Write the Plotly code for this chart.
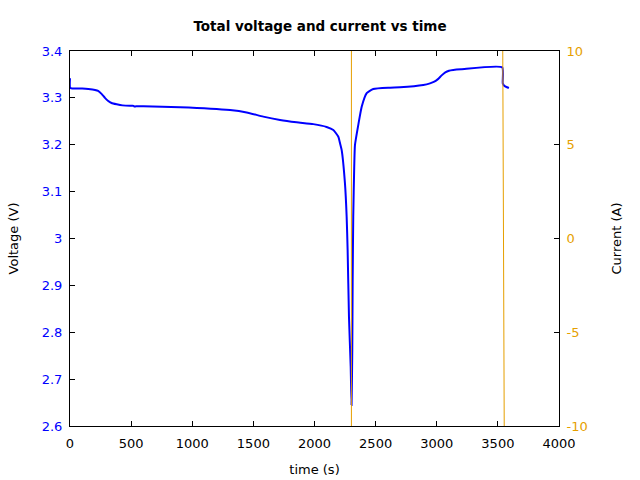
import plotly.graph_objects as go

# Voltage data (time s, voltage V)
time_v = [0, 3, 100, 150, 205, 230, 260, 286, 310, 340, 382, 430, 491, 520, 526, 540, 600,
          900, 1309, 1445, 1581, 1718, 1854, 1990, 2099, 2154, 2195, 2209, 2222, 2249, 2263,
          2271, 2282, 2296, 2303,
          2309, 2312, 2317, 2325, 2331, 2358, 2386, 2427, 2481, 2618, 2699, 2890, 2945,
          2980, 3010, 3040, 3070, 3100, 3135, 3200, 3535, 3540, 3552, 3590]
voltage = [3.342, 3.321, 3.320, 3.319, 3.317, 3.315, 3.308, 3.300, 3.294, 3.289, 3.2863, 3.284,
           3.283, 3.283, 3.2815, 3.282, 3.282,
           3.280, 3.274, 3.269, 3.260, 3.253, 3.248, 3.244, 3.238, 3.2315, 3.217, 3.203,
           3.189, 3.118, 3.0465, 2.9755, 2.833, 2.7265, 2.645,
           2.762, 2.905, 3.0465, 3.153, 3.199, 3.242, 3.281, 3.310, 3.319, 3.3218, 3.3226,
           3.3275, 3.331,
           3.3345, 3.340, 3.348, 3.3545, 3.358, 3.3595, 3.361, 3.3652, 3.331, 3.326, 3.321]

# Current data (time s, current A)
time_i = [0, 2302, 2302, 3531, 3561]
current = [-25, -25, 25, 25, -25]

x_ticks = [0, 500, 1000, 1500, 2000, 2500, 3000, 3500, 4000]
y_ticks = [2.6, 2.7, 2.8, 2.9, 3.0, 3.1, 3.2, 3.3, 3.4]
y_labels = ["2.6", "2.7", "2.8", "2.9", "3", "3.1", "3.2", "3.3", "3.4"]
y2_ticks = [10, 5, 0, -5, -10]
y2_labels = ["10", "5", "0", "-5", "-10"]

font = "DejaVu Sans"
fs = 13
orange = "#e69f00"

fig = go.Figure()
fig.add_trace(go.Scatter(x=time_v, y=voltage, mode="lines",
                         line=dict(color="#0000ff", width=2, shape="spline", smoothing=0.5),
                         yaxis="y"))
fig.add_trace(go.Scatter(x=time_i, y=current, mode="lines",
                         line=dict(color=orange, width=1), yaxis="y2"))

fig.update_layout(
    width=640, height=480,
    margin=dict(l=70, r=81, t=51, b=54),
    paper_bgcolor="white", plot_bgcolor="white",
    showlegend=False,
    font=dict(family=font, size=fs, color="black"),
    title=dict(text="<b>Total voltage and current vs time</b>", x=0.5, xanchor="center",
               y=1 - 26 / 480, yanchor="middle", font=dict(size=13.5, family=font)),
    xaxis=dict(range=[0, 4000], tickvals=x_ticks, automargin=False,
               ticks="inside", ticklen=5, tickcolor="black", showline=True, linecolor="black",
               linewidth=1, mirror="ticks", showgrid=False, zeroline=False,
               ticklabelstandoff=5,
               title=dict(text="time (s)", standoff=15, font=dict(size=fs)),
               tickfont=dict(color="black", size=fs)),
    yaxis=dict(range=[2.6, 3.4], tickvals=y_ticks, ticktext=y_labels, automargin=False,
               ticks="inside", ticklen=5, tickcolor="black", showline=True, linecolor="black",
               linewidth=1, showgrid=False, zeroline=False, ticklabelstandoff=4,
               tickfont=dict(color="#0000ff", size=fs),
               title=dict(text="Voltage (V)", standoff=20, font=dict(size=fs))),
    yaxis2=dict(range=[-10, 10], overlaying="y", side="right", tickvals=y2_ticks,
                ticktext=y2_labels, ticks="inside", ticklen=5, tickcolor="black",
                automargin=False,
                showline=True, linecolor="black", linewidth=1, showgrid=False, zeroline=False,
                ticklabelstandoff=4,
                tickfont=dict(color=orange, size=fs),
                title=dict(text="Current (A)", standoff=25, font=dict(size=fs))),
)

fig.write_html("out.html")
